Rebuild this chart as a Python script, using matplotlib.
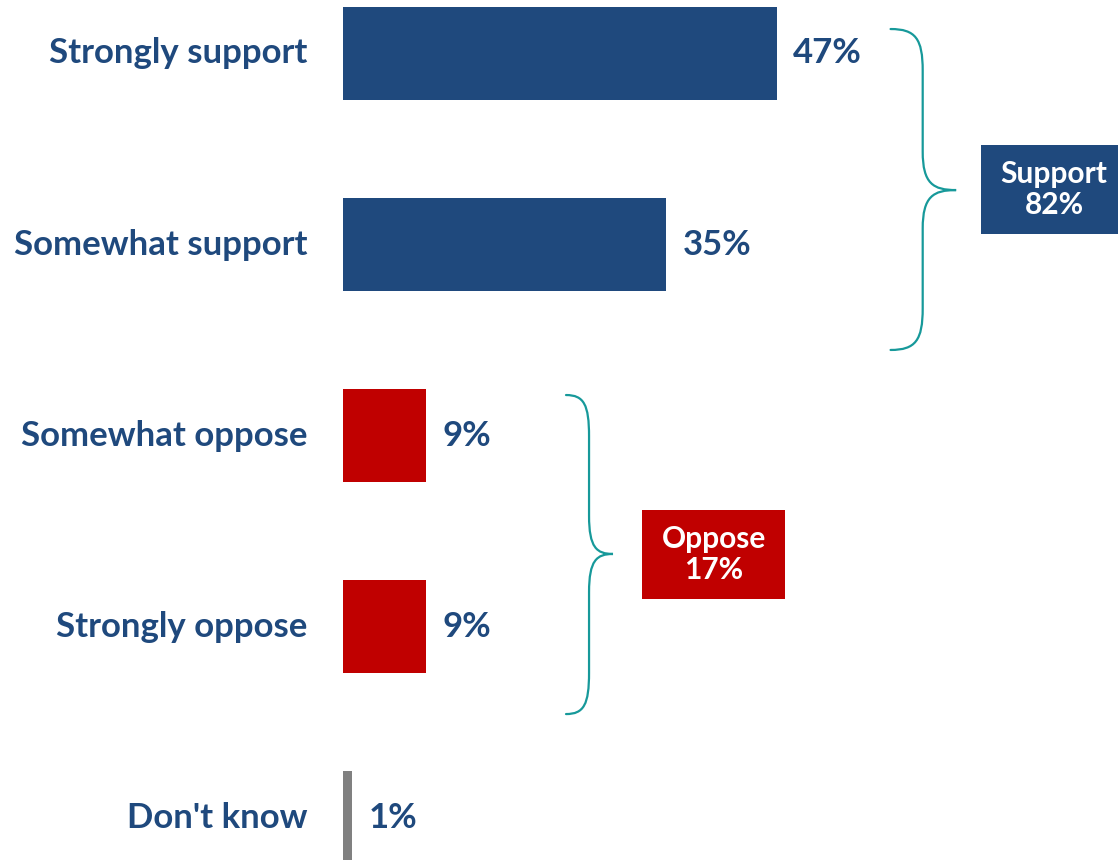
import matplotlib.pyplot as plt
from matplotlib.path import Path
from matplotlib.patches import PathPatch, Rectangle

# survey answers, top to bottom
categories = ["Strongly support", "Somewhat support", "Somewhat oppose",
              "Strongly oppose", "Don't know"]
values = [47, 35, 9, 9, 1]
bar_colors = ["#1F497D", "#1F497D", "#C00000", "#C00000", "#808080"]

# net groups shown beside the braces
group_names = ["Support", "Oppose"]
group_values = [82, 17]
group_colors = ["#1F497D", "#C00000"]

BLUE_TEXT = "#1F497D"
TEAL = "#17999A"
FONT = "Lato"

plt.rcParams["font.family"] = [FONT, "DejaVu Sans"]


def brace(ax, x0, x1, y_top, y_bot, y_tip):
    """Right-pointing curly brace in data coordinates."""
    xr = x0 + 0.49 * (x1 - x0)
    h = y_bot - y_top
    verts = [
        (x0, y_top),
        (x0 + 0.38 * (x1 - x0), y_top), (xr, y_top + 0.03 * h), (xr, y_top + 0.13 * h),
        (xr, y_tip - 0.12 * h),
        (xr, y_tip - 0.02 * h), (x0 + 0.65 * (x1 - x0), y_tip), (x1, y_tip),
        (x0 + 0.65 * (x1 - x0), y_tip), (xr, y_tip + 0.02 * h), (xr, y_tip + 0.12 * h),
        (xr, y_bot - 0.13 * h),
        (xr, y_bot - 0.03 * h), (x0 + 0.38 * (x1 - x0), y_bot), (x0, y_bot),
    ]
    codes = ([Path.MOVETO] + [Path.CURVE4] * 3 + [Path.LINETO] + [Path.CURVE4] * 6
             + [Path.LINETO] + [Path.CURVE4] * 3)
    ax.add_patch(PathPatch(Path(verts, codes), fill=False, edgecolor=TEAL,
                           linewidth=1.6, capstyle="round"))


fig = plt.figure(figsize=(11.18, 8.6), dpi=100)
ax = fig.add_axes([0, 0, 1, 1])
ax.set_xlim(-37.15, 83.93)
ax.set_ylim(4.222, -0.28)
ax.axis("off")

ypos = list(range(len(categories)))
ax.barh(ypos, values, height=0.487, color=bar_colors, left=0)

for y, cat, v in zip(ypos, categories, values):
    ax.text(-3.9, y, cat, ha="right", va="center", fontsize=25,
            fontweight="bold", color=BLUE_TEXT)
    ax.text(v + 1.75, y, f"{v}%", ha="left", va="center", fontsize=25,
            fontweight="bold", color=BLUE_TEXT)

# braces and net boxes
brace(ax, 59.3, 66.4, -0.128, 1.552, 0.715)
brace(ax, 24.15, 29.24, 1.788, 3.458, 2.62)

boxes = [(69.1, 0.479, 16.0, 0.466), (32.4, 2.39, 15.5, 0.466)]
for (bx, by, bw, bh), name, gv, col in zip(boxes, group_names, group_values, group_colors):
    ax.add_patch(Rectangle((bx, by), bw, bh, facecolor=col, edgecolor="none"))
    cx = bx + 7.75 if name == "Oppose" else 77.0
    ax.text(cx, by + bh / 2, f"{name}\n{gv}%", ha="center", va="center",
            fontsize=21.5, fontweight="bold", color="white", linespacing=1.1)

fig.savefig("out.png", dpi=100)
